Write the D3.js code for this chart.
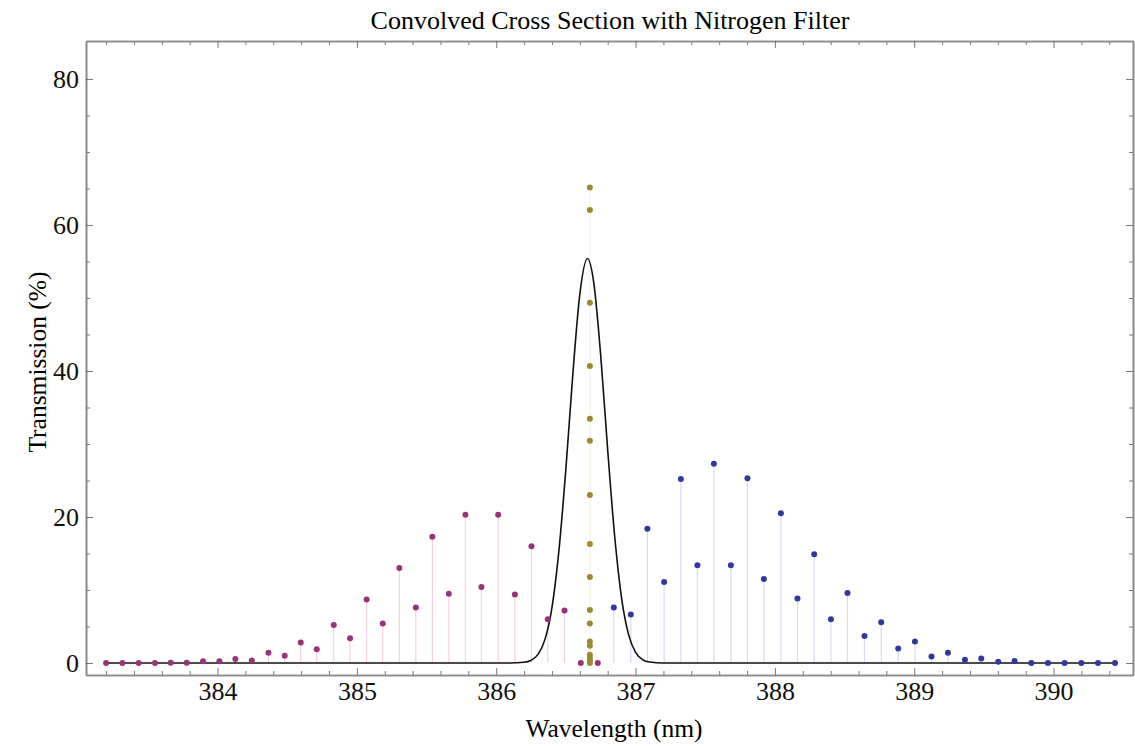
<!DOCTYPE html>
<html lang="en">

<head>
    <meta charset="UTF-8">
    <title>Convolved Cross Section with Nitrogen Filter</title>
    <script src="https://d3js.org/d3.v7.min.js"></script>
    <style>
        body { margin: 0; background: #fff; }
        text { font-family: "Liberation Serif", "DejaVu Serif", serif; }
    </style>
</head>

<body>
    <script>
        // P branch lines (magenta), left of the filter peak
        var magentaX = [383.200, 383.317, 383.434, 383.551, 383.664, 383.779, 383.896, 384.013, 384.128, 384.246,
            384.365, 384.482, 384.597, 384.712, 384.834, 384.951, 385.070, 385.186, 385.305, 385.423,
            385.542, 385.660, 385.779, 385.894, 386.014, 386.134, 386.253, 386.370, 386.490, 386.607, 386.729];
        var magentaY = [0, 0, 0, 0, 0.05, 0.05, 0.25, 0.25, 0.55, 0.35,
            1.4, 1.0, 2.8, 1.9, 5.2, 3.4, 8.7, 5.4, 13.0, 7.6,
            17.3, 9.5, 20.3, 10.4, 20.3, 9.4, 16.0, 6.0, 7.2, 0, 0];

        // R branch lines (blue), right of the peak
        var blueX = [386.844, 386.966, 387.085, 387.205, 387.325, 387.444, 387.562, 387.684, 387.803, 387.921,
            388.043, 388.162, 388.282, 388.402, 388.521, 388.643, 388.763, 388.885, 389.005, 389.124,
            389.242, 389.364, 389.481, 389.603, 389.720, 389.840, 389.960, 390.079, 390.199, 390.319, 390.441];
        var blueY = [7.6, 6.66, 18.4, 11.1, 25.2, 13.4, 27.3, 13.4, 25.3, 11.5,
            20.5, 8.85, 14.9, 6.0, 9.6, 3.7, 5.6, 2.0, 2.96, 0.9,
            1.4, 0.45, 0.63, 0.18, 0.27, 0.02, 0.02, 0, 0, 0, 0];

        // Q branch (gold), all piled on one wavelength
        var goldX = 386.672;
        var goldY = [65.15, 62.05, 49.36, 40.7, 33.45, 30.45, 23.0, 16.3, 11.8, 7.26,
            5.42, 2.96, 2.37, 1.14, 0.68, 0.3, 0];

        // filter transmission curve
        var curveX = [383.20, 386.10, 386.20, 386.25, 386.30, 386.35, 386.40, 386.45, 386.50, 386.55,
            386.60, 386.655, 386.70, 386.75, 386.80, 386.85, 386.90, 386.95, 387.00, 387.05,
            387.10, 387.20, 390.44];
        var curveY = [0, 0, 0.1, 0.38, 1.18, 3.24, 7.6, 15.4, 26.6, 39.6,
            50.5, 55.4, 52.1, 42.1, 29.2, 17.4, 8.87, 3.89, 1.47, 0.47,
            0.13, 0, 0];

        var xMajor = [384, 385, 386, 387, 388, 389, 390];
        var yMajor = [0, 20, 40, 60, 80];

        var width = 1135;
        var height = 746;
        var padding = { top: 41, right: 2, bottom: 71, left: 86 };

        var svg = d3.select("body").append("svg")
            .attr("width", width)
            .attr("height", height);

        var xScale = d3.scaleLinear()
            .domain([383.056, 390.57])
            .range([padding.left, width - padding.right]);

        var yScale = d3.scaleLinear()
            .domain([-1.64, 85.2])
            .range([height - padding.bottom, padding.top]);

        var x0 = xScale.range()[0], x1 = xScale.range()[1];
        var y0 = yScale.range()[0], y1 = yScale.range()[1];

        var xMinor = d3.range(383.2, 390.5, 0.2).filter(function (v) {
            return Math.abs(v - Math.round(v)) > 0.01;
        });
        var yMinor = d3.range(5, 85, 5).filter(function (v) { return v % 20 != 0; });

        // frame with ticks on all four sides, pointing inward
        function frameAxis(axis, scale, values, size, labels) {
            return axis(scale).tickValues(values).tickSize(-size).tickSizeOuter(0).tickPadding(7)
                .tickFormat(labels ? d3.format("d") : "");
        }

        var sides = [
            { axis: d3.axisBottom, scale: xScale, t: "translate(0," + y0 + ")", major: xMajor, minor: xMinor, lab: true },
            { axis: d3.axisTop, scale: xScale, t: "translate(0," + y1 + ")", major: xMajor, minor: xMinor, lab: false },
            { axis: d3.axisLeft, scale: yScale, t: "translate(" + x0 + ",0)", major: yMajor, minor: yMinor, lab: true },
            { axis: d3.axisRight, scale: yScale, t: "translate(" + x1 + ",0)", major: yMajor, minor: yMinor, lab: false }
        ];

        sides.forEach(function (s) {
            var g = svg.append("g").attr("transform", s.t);
            g.call(frameAxis(s.axis, s.scale, s.minor, 4, false));
            var gm = svg.append("g").attr("transform", s.t);
            gm.call(frameAxis(s.axis, s.scale, s.major, 7, s.lab));
            [g, gm].forEach(function (a) {
                a.select(".domain").attr("stroke", "#8a8a8a").attr("stroke-width", 1.6);
                a.selectAll(".tick line").attr("stroke", "#555").attr("stroke-width", 0.8);
                a.selectAll(".tick text").attr("fill", "#111").style("font-size", "26px");
            });
        });

        var plot = svg.append("g");

        var magenta = magentaX.map(function (x, i) { return [x, magentaY[i]]; });
        var blue = blueX.map(function (x, i) { return [x, blueY[i]]; });
        var gold = goldY.map(function (y) { return [goldX, y]; });

        function stems(data, color) {
            plot.selectAll(null)
                .data(data)
                .enter()
                .append("line")
                .attr("x1", function (d) { return xScale(d[0]); })
                .attr("x2", function (d) { return xScale(d[0]); })
                .attr("y1", yScale(0))
                .attr("y2", function (d) { return yScale(d[1]); })
                .attr("stroke", color)
                .attr("stroke-width", 1.2);
        }
        stems(magenta, "#f0d3e1");
        stems(blue, "#d9d9f0");
        stems(gold, "#f9f6ea");

        var line = d3.line()
            .x(function (d) { return xScale(d[0]); })
            .y(function (d) { return yScale(d[1]); })
            .curve(d3.curveMonotoneX);

        plot.append("path")
            .datum(curveX.map(function (x, i) { return [x, curveY[i]]; }))
            .attr("d", line)
            .attr("fill", "none")
            .attr("stroke", "#111")
            .attr("stroke-width", 1.6);

        function dots(data, color) {
            plot.selectAll(null)
                .data(data)
                .enter()
                .append("circle")
                .attr("cx", function (d) { return xScale(d[0]); })
                .attr("cy", function (d) { return yScale(d[1]); })
                .attr("r", 3)
                .attr("fill", color);
        }
        dots(magenta, "#993377");
        dots(blue, "#3535a0");
        dots(gold, "#9c8a32");

        svg.append("text")
            .attr("x", 610)
            .attr("y", 29)
            .attr("text-anchor", "middle")
            .style("font-size", "26px")
            .text("Convolved Cross Section with Nitrogen Filter");

        svg.append("text")
            .attr("x", 614)
            .attr("y", 737)
            .attr("text-anchor", "middle")
            .style("font-size", "25.5px")
            .text("Wavelength (nm)");

        svg.append("text")
            .attr("transform", "translate(46,362) rotate(-90)")
            .attr("text-anchor", "middle")
            .style("font-size", "25.5px")
            .text("Transmission (%)");
    </script>
</body>

</html>
